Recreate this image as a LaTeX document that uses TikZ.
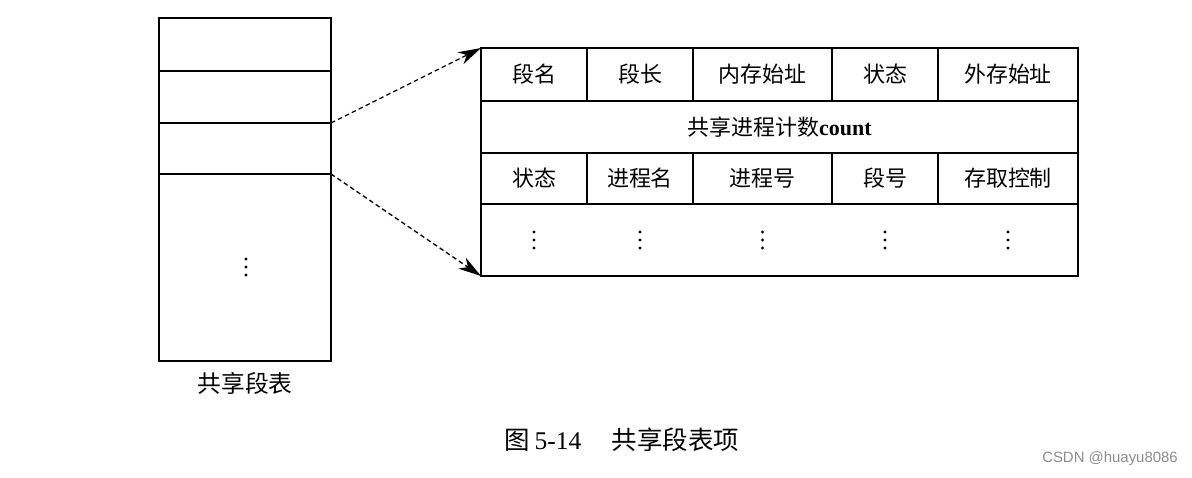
\documentclass[tikz,border=0pt]{standalone}
\usepackage{fontspec}
\setmainfont{Liberation Serif}
\setsansfont{Liberation Sans}
\newfontfamily\cjk{Noto Sans CJK SC}
\usetikzlibrary{arrows.meta,positioning,calc}

\tikzset{
  tbl/.style={line width=0.9pt},
  cell/.style={inner sep=0pt,font=\cjk\fontsize{12.5}{15}\selectfont},
  link/.style={line width=0.75pt,dash pattern=on 2.6pt off 1.8pt,
    -{Stealth[length=13pt,width=7.5pt,inset=4pt]}},
  dotty/.style={fill=black}
}

\begin{document}
\begin{tikzpicture}[x=0.02cm,y=-0.02cm]
  \useasboundingbox (0,0) rectangle (1192,477);
  % 左边：共享段表
  \draw[tbl] (159,18) rectangle (331,361); % 段表外框
  \draw[tbl] (159,71) -- (331,71); % 第1项下沿
  \draw[tbl] (159,123) -- (331,123); % 第2项下沿
  \draw[tbl] (159,174) -- (331,174); % 第3项下沿
  \foreach \y in {259,267,275} \fill[dotty] (246,\y) circle (1.7); % 省略号
  \node[cell,font=\cjk\fontsize{13.5}{16}\selectfont] (segtab) at (245,383) {共享段表};
  \coordinate (seg-a) at (331,123);
  \coordinate (seg-b) at (331,174);
  % 右边：共享段表项
  \draw[tbl] (481,48) rectangle (1078,276); % 表项外框
  \draw[tbl] (481,101) -- (1078,101); % 第1行下沿
  \draw[tbl] (481,153) -- (1078,153); % 第2行下沿
  \draw[tbl] (481,204) -- (1078,204); % 第3行下沿
  \foreach \x in {587,693,832,938} {
    \draw[tbl] (\x,48) -- (\x,101); % 第1行分隔
    \draw[tbl] (\x,153) -- (\x,204); % 第3行分隔
  }
  \coordinate (ent-nw) at (481,48);
  \coordinate (ent-sw) at (481,276);
  \node[cell] (c11) at (534,74.5) {段名};
  \node[cell] (c12) at (640,74.5) {段长};
  \node[cell] (c13) at (762.5,74.5) {内存始址};
  \node[cell] (c14) at (885,74.5) {状态};
  \node[cell] (c15) at (1008,74.5) {外存始址};
  \node[cell] (c2) at (779.5,127) {共享进程计数\fontspec{Liberation Serif}\bfseries count};
  \node[cell] (c31) at (534,178.5) {状态};
  \node[cell] (c32) at (640,178.5) {进程名};
  \node[cell] (c33) at (762.5,178.5) {进程号};
  \node[cell] (c34) at (885,178.5) {段号};
  \node[cell] (c35) at (1008,178.5) {存取控制};
  \foreach \x in {534,640,762.5,885,1008}
    \foreach \y in {232,240,248} \fill[dotty] (\x,\y) circle (1.7); % 各列省略号
  % 虚线箭头
  \draw[link] (seg-a) -- (ent-nw);
  \draw[link] (seg-b) -- (ent-sw);
  % 图题与水印
  \node[inner sep=0pt,font=\fontsize{14.5}{17}\selectfont] (caption) at (622,440)
    {{\cjk 图}\,5-14\hspace{1.2em}{\cjk 共享段表项}};
  \node[inner sep=0pt,text=black!45,font=\sffamily\fontsize{8.5}{10}\selectfont] (mark) at (1110,459) {CSDN @huayu8086};
\end{tikzpicture}
\end{document}
